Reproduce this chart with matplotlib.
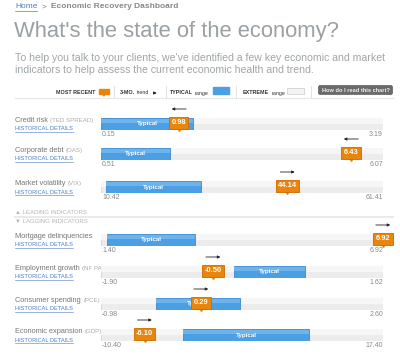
import matplotlib
matplotlib.use("Agg")
import matplotlib.pyplot as plt
from matplotlib.patches import FancyBboxPatch, Rectangle

plt.rcParams['font.family'] = ['Liberation Sans', 'DejaVu Sans']

# indicator data
names = ["Credit risk", "Corporate debt", "Market volatility", "Mortgage delinquencies",
         "Employment growth", "Consumer spending", "Economic expansion"]
codes = ["(TED SPREAD)", "(OAS)", "(VIX)", "", "(NF PAY)", "(PCE)", "(GDP)"]
mins = [0.15, 0.51, 10.42, 1.40, -1.90, -0.98, -10.40]
maxs = [3.19, 6.07, 61.41, 6.92, 1.62, 2.60, 17.40]
typical_lo = [0.15, 0.51, 11.3, 1.52, -0.24, -0.28, -2.3]
typical_hi = [1.14, 1.87, 28.5, 3.24, 0.65, 0.78, 10.1]
recent = [0.98, 6.43, 44.14, 6.92, -0.50, 0.29, -6.10]
recent_pos = [0.99, 5.44, 44.14, 6.92, -0.50, 0.29, -6.10]
trend = [-1, -1, 1, 1, 1, 1, 1]

W, H = 400, 357
bar_top = [118, 148, 181, 234, 266, 298, 329]
bar_h = 12
bx0, bx1 = 101, 383

link = '#4a7fc8'
orange = '#e8850c'
blue = '#4d9fe3'

fig = plt.figure(figsize=(W / 100, H / 100), dpi=100)
ax0 = fig.add_axes([0, 0, 1, 1])
ax0.set_xlim(0, W)
ax0.set_ylim(H, 0)
ax0.axis('off')
renderer = fig.canvas.get_renderer()


def right_edge(t):
    # right end of a text in pixel units of ax0
    bb = t.get_window_extent(renderer=renderer)
    return bb.x1 * W / fig.bbox.width


# header
t = ax0.text(15, 7, "Home", color=link, fontsize=6, va='center')
ax0.plot([15, right_edge(t)], [11, 11], color=link, lw=0.5)
t = ax0.text(right_edge(t) + 4, 7, ">", color='#888888', fontsize=6, va='center')
ax0.text(right_edge(t) + 5, 7, "Economic Recovery Dashboard", color='#888888', fontsize=6,
         va='center', fontweight='bold')
ax0.text(14, 31, "What's the state of the economy?", color='#9aa0a3', fontsize=15.8,
         va='center')
ax0.text(15, 58, "To help you talk to your clients, we've identified a few key economic and market",
         color='#a0a5a8', fontsize=7.6, va='center')
ax0.text(15, 70, "indicators to help assess the current economic health and trend.",
         color='#a0a5a8', fontsize=7.6, va='center')

# legend row
ly = 93
lfs = 3.9
ax0.text(95, ly, "MOST RECENT", fontsize=lfs, fontweight='bold', color='#333333',
         ha='right', va='center')
ax0.add_patch(Rectangle((99, 89), 10, 5, color=orange))
ax0.plot([103, 104, 105], [94, 96, 94], color=orange, lw=1)
for sx in [114, 166, 236, 311]:
    ax0.plot([sx, sx], [86, 98], color='#dddddd', lw=0.6)
t = ax0.text(120, ly, "3-MO.", fontsize=lfs, fontweight='bold', color='#333333', va='center')
t = ax0.text(right_edge(t) + 2, ly, "trend", fontsize=lfs, color='#333333', va='center')
xa = right_edge(t) + 1
ax0.annotate("", xy=(xa + 9, ly), xytext=(xa, ly),
             arrowprops=dict(arrowstyle='-|>', color='#222222', lw=0.6,
                             mutation_scale=4))
t = ax0.text(170, ly, "TYPICAL", fontsize=lfs, fontweight='bold', color='#333333', va='center')
ax0.text(right_edge(t) + 2, ly, "range", fontsize=lfs, color='#333333', va='center')
ax0.add_patch(Rectangle((213, 87), 16, 7, color=blue))
t = ax0.text(243, ly, "EXTREME", fontsize=lfs, fontweight='bold', color='#333333', va='center')
ax0.text(right_edge(t) + 2, ly, "range", fontsize=lfs, color='#333333', va='center')
ax0.add_patch(Rectangle((287, 88), 17, 6, fc='#f4f4f4', ec='#cccccc', lw=0.5))
ax0.add_patch(FancyBboxPatch((319, 86), 73, 8, boxstyle='round,pad=0.6,rounding_size=2',
                             fc='#6a6a6a', ec='#555555', lw=0.4))
ax0.text(355.5, 90.3, "How do I read this chart?", fontsize=4.1, fontweight='bold',
         color='#f0f0f0', ha='center', va='center')
ax0.plot([15, 393], [98, 98], color='#e6e6e6', lw=0.8)

# leading / lagging separator
ax0.plot([15, 393], [217, 217], color='#e6e6e6', lw=1.2)
ax0.text(15, 213, "\u25b2 LEADING INDICATORS", fontsize=4.3, color='#b5b5b5', va='center')
ax0.text(15, 221, "\u25bc LAGGING INDICATORS", fontsize=4.3, color='#b5b5b5', va='center')

for i in range(len(names)):
    top = bar_top[i]
    # labels
    t = ax0.text(15, top + 2.5, names[i], fontsize=5.3, color='#777777', va='center')
    if codes[i]:
        ax0.text(right_edge(t) + 2.5, top + 2.5, codes[i], fontsize=4.4, color='#aaaaaa',
                 va='center')
    ax0.text(15, top + 11, "HISTORICAL DETAILS", fontsize=4.1, color=link, va='center')
    ax0.plot([15, 73], [top + 13.5, top + 13.5], color=link, lw=0.4)

    # bar axes in data units
    ax = fig.add_axes([bx0 / W, 1 - (top + bar_h) / H, (bx1 - bx0) / W, bar_h / H])
    ax.set_xlim(mins[i], maxs[i])
    ax.set_ylim(0, 1)
    ax.axis('off')
    span = maxs[i] - mins[i]
    ax.barh(0.5, span, left=mins[i], height=1, color='#ececec', edgecolor='#d4d4d4', lw=0.6)
    ax.barh(0.72, span, left=mins[i], height=0.5, color='#f6f6f6', lw=0)
    ax.barh(0.5, typical_hi[i] - typical_lo[i], left=typical_lo[i], height=1,
            color=blue, edgecolor='#3a8ad6', lw=0.6)
    ax.barh(0.75, typical_hi[i] - typical_lo[i], left=typical_lo[i], height=0.4,
            color='#6db3ec', lw=0)
    ax.text((typical_lo[i] + typical_hi[i]) / 2, 0.5, "Typical", fontsize=4.5,
            fontweight='bold', color='white', ha='center', va='center')

    # most recent marker
    xm = recent_pos[i]
    ax.plot([xm], [0.15], marker='v', ms=4.5, color=orange, clip_on=False, zorder=5)
    ax.text(xm, 0.6, f"{recent[i]:.2f}", fontsize=5.4, fontweight='bold', color='white',
            ha='center', va='center', clip_on=False, zorder=6,
            bbox=dict(boxstyle='square,pad=0.3', fc=orange, ec='#d06800', lw=0.6))
    # trend arrow
    dx = span * 10 / (bx1 - bx0)
    ax.annotate("", xy=(xm + trend[i] * dx, 1.75), xytext=(xm - trend[i] * dx, 1.75),
                annotation_clip=False,
                arrowprops=dict(arrowstyle='-|>', color='#222222', lw=0.6,
                                mutation_scale=4))

    # min / max labels
    ax0.text(bx0 + 1, top + bar_h + 4.5, f"{mins[i]:.2f}", fontsize=5, color='#888888',
             va='center')
    ax0.text(bx1, top + bar_h + 4.5, f"{maxs[i]:.2f}", fontsize=5, color='#888888',
             va='center', ha='right')

fig.savefig("out.png", dpi=100)
